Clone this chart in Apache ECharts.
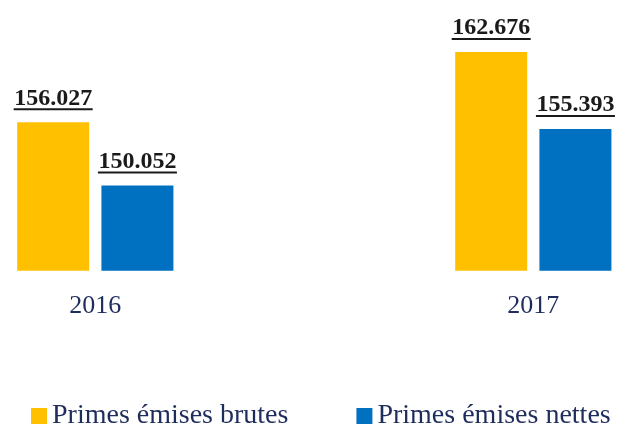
<!DOCTYPE html>
<html>
<head>
<meta charset="utf-8">
<script src="https://cdn.jsdelivr.net/npm/echarts@6/dist/echarts.min.js"></script>
<style>html,body{margin:0;padding:0;background:#fff}#c{width:639px;height:429px}</style>
</head>
<body>
<div id="c"></div>
<script>
var categories = ['2016', '2017'];
var seriesNames = ['Primes émises brutes', 'Primes émises nettes'];
var brutes = [156.027, 162.676];
var nettes = [150.052, 155.393];
var colors = ['#FFC000', '#0070C0'];

var chart = echarts.init(document.getElementById('c'), null, {renderer: 'canvas'});
var serif = '"Liberation Serif", "DejaVu Serif", serif';

function fmt(v) { return v.toFixed(3); }

function makeLabel() {
  return {
    show: true,
    position: 'top',
    distance: 12,
    formatter: function (p) { return '{v|' + fmt(p.value) + '}\n{u| }'; },
    rich: {
      v: {fontFamily: serif, fontSize: 24, fontWeight: 'bold', color: '#1a1a1a', lineHeight: 20, align: 'center'},
      u: {width: 79, height: 2, lineHeight: 2, fontSize: 1, backgroundColor: '#1a1a1a', align: 'center'}
    }
  };
}

// one grid per category group, centred where the reference puts them
var groupCentres = [95.3, 533.3];
var halfWidth = 95;
var grids = [], xAxes = [], yAxes = [], series = [];
categories.forEach(function (cat, i) {
  grids.push({left: groupCentres[i] - halfWidth, width: 2 * halfWidth, top: 27.4, bottom: 158.3});
  xAxes.push({
    type: 'category', gridIndex: i, data: [cat],
    axisLine: {show: false}, axisTick: {show: false},
    axisLabel: {fontFamily: serif, fontSize: 26, color: '#1F2D5C', margin: 22}
  });
  yAxes.push({type: 'value', gridIndex: i, min: 142, max: 165, show: false, splitLine: {show: false}});
  [brutes, nettes].forEach(function (arr, s) {
    series.push({
      name: seriesNames[s], type: 'bar', xAxisIndex: i, yAxisIndex: i,
      data: [arr[i]], barWidth: 72, barGap: '17%',
      itemStyle: {color: colors[s]}, label: makeLabel()
    });
  });
});

chart.setOption({
  animation: false,
  grid: grids,
  legend: {
    data: seriesNames,
    left: 31,
    top: 402,
    padding: 0,
    icon: 'rect',
    itemWidth: 16,
    itemHeight: 16,
    itemGap: 68,
    textStyle: {fontFamily: serif, fontSize: 28, color: '#1F2D5C'}
  },
  xAxis: xAxes,
  yAxis: yAxes,
  series: series
});
</script>
</body>
</html>
